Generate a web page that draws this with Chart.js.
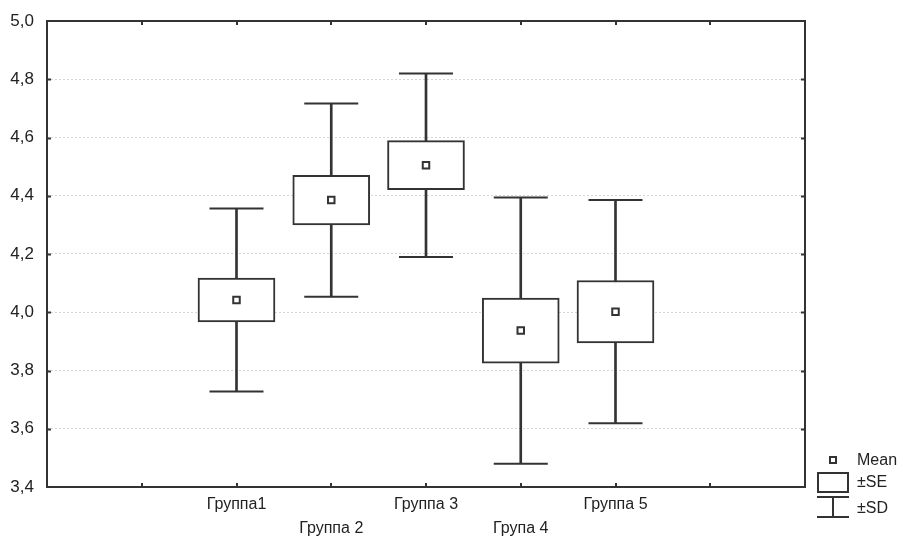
<!DOCTYPE html>
<html>
<head>
<meta charset="utf-8">
<script src="https://cdn.jsdelivr.net/npm/chart.js@4/dist/chart.umd.min.js"></script>
<style>
html,body{margin:0;padding:0;background:#fff;}
#wrap{width:903px;height:540px;}
</style>
</head>
<body>
<div id="wrap"><canvas id="c" width="903" height="540"></canvas></div>
<script>
// ---- data ----
const categories = ['Группа1', 'Группа 2', 'Группа 3', 'Група 4', 'Группа 5'];
const means = [4.042, 4.385, 4.505, 3.937, 4.002];
const se    = [0.075, 0.085, 0.084, 0.112, 0.107];
const sd    = [0.314, 0.332, 0.315, 0.457, 0.383];
const yTickMin = 3.4, yTickMax = 5.0, yTickStep = 0.2;
const legendLabels = ['Mean', '±SE', '±SD'];

// ---- helpers ----
const LEAD = 2; // empty slots before first group
const xOf = i => i + LEAD;
const xMax = categories.length + LEAD + 1;
const INK = '#333333';
const FONT = "'Liberation Sans', Arial, Helvetica, sans-serif";

const meanPts = means.map((m, i) => ({x: xOf(i), y: m}));
const capPts = [];
means.forEach((m, i) => { capPts.push({x: xOf(i), y: m + sd[i]}); capPts.push({x: xOf(i), y: m - sd[i]}); });
const boxData = means.map((m, i) => ({x: xOf(i), y: [m - se[i], m + se[i]]}));
const stemData = means.map((m, i) => ({x: xOf(i), y: [m - sd[i], m + sd[i]]}));

const framePlugin = {
  id: 'frame',
  afterDraw(chart) {
    const {ctx, chartArea: a, scales} = chart;
    ctx.save();
    ctx.strokeStyle = INK;
    ctx.lineWidth = 2;
    ctx.strokeRect(a.left, a.top, a.right - a.left, a.bottom - a.top);
    ctx.beginPath();
    const tl = 4;
    scales.y.ticks.forEach(t => {
      if (t.value <= yTickMin + 1e-9 || t.value >= yTickMax - 1e-9) return;
      const py = Math.round(scales.y.getPixelForValue(t.value)) + 0.5;
      ctx.moveTo(a.left, py); ctx.lineTo(a.left + tl, py);
      ctx.moveTo(a.right, py); ctx.lineTo(a.right - tl, py);
    });
    scales.x.ticks.forEach(t => {
      if (t.value <= 0 || t.value >= xMax) return;
      const px = Math.round(scales.x.getPixelForValue(t.value));
      ctx.moveTo(px, a.bottom); ctx.lineTo(px, a.bottom - tl);
      ctx.moveTo(px, a.top); ctx.lineTo(px, a.top + tl);
    });
    ctx.stroke();

    // legend
    const lx = a.right + 12, lw = 32, cx = lx + lw / 2;
    const tx = a.right + 52;
    ctx.lineWidth = 2;
    ctx.fillStyle = '#fff';
    ctx.fillRect(cx - 3, a.bottom - 30, 6, 6);
    ctx.strokeRect(cx - 3, a.bottom - 30, 6, 6);
    ctx.strokeRect(lx + 1, a.bottom - 14, lw - 2, 19);
    ctx.beginPath();
    ctx.moveTo(lx, a.bottom + 10); ctx.lineTo(lx + lw, a.bottom + 10);
    ctx.moveTo(cx, a.bottom + 10); ctx.lineTo(cx, a.bottom + 30);
    ctx.moveTo(lx, a.bottom + 30); ctx.lineTo(lx + lw, a.bottom + 30);
    ctx.stroke();
    ctx.fillStyle = '#222';
    ctx.font = '16px ' + FONT;
    ctx.textBaseline = 'middle';
    ctx.textAlign = 'left';
    ctx.fillText(legendLabels[0], tx, a.bottom - 26.5);
    ctx.fillText(legendLabels[1], tx, a.bottom - 4);
    ctx.fillText(legendLabels[2], tx, a.bottom + 22);
    ctx.restore();
  }
};

new Chart(document.getElementById('c'), {
  type: 'bar',
  data: {
    datasets: [
      { type: 'scatter', label: 'Mean', data: meanPts, pointStyle: 'rect', pointRadius: 4.6,
        backgroundColor: '#fff', borderColor: INK, borderWidth: 2, pointHoverRadius: 4.6 },
      { type: 'scatter', label: 'SDcap', data: capPts, pointStyle: 'line', pointRadius: 27,
        borderColor: INK, borderWidth: 2, pointHoverRadius: 27 },
      { type: 'bar', label: 'SE', data: boxData, backgroundColor: '#fff', borderColor: INK,
        borderWidth: 2, borderSkipped: false, barThickness: 77, grouped: false },
      { type: 'bar', label: 'SD', data: stemData, backgroundColor: INK, borderWidth: 0,
        barThickness: 2, grouped: false }
    ]
  },
  options: {
    responsive: false,
    animation: false,
    events: [],
    layout: { autoPadding: false, padding: { left: 0, right: 98, top: 21, bottom: 0 } },
    plugins: { legend: { display: false }, tooltip: { enabled: false } },
    scales: {
      x: {
        type: 'linear', min: 0, max: xMax, offset: false,
        grid: { display: false, drawTicks: false, offset: false },
        border: { display: false },
        afterFit: s => { s.height = 53; s.paddingLeft = 0; s.paddingRight = 0; },
        ticks: {
          stepSize: 1, autoSkip: false, maxRotation: 0, padding: 6.4,
          color: '#222', font: { family: FONT, size: 16, lineHeight: 1.45 },
          callback: v => {
            const i = v - LEAD;
            if (i < 0 || i >= categories.length || i !== Math.round(i)) return '';
            return i % 2 === 0 ? categories[i] : ['', categories[i]];
          }
        }
      },
      y: {
        min: yTickMin, max: yTickMax, beginAtZero: false,
        grid: { color: '#d6d6d6', lineWidth: 1, drawTicks: false },
        border: { display: false, dash: [2, 2] },
        afterFit: s => { s.width = 47; s.paddingTop = 0; s.paddingBottom = 0; },
        ticks: {
          stepSize: yTickStep, padding: 13, color: '#222',
          font: { family: FONT, size: 17 },
          callback: v => Number(v).toFixed(1).replace('.', ',')
        }
      }
    }
  },
  plugins: [framePlugin]
});
</script>
</body>
</html>
